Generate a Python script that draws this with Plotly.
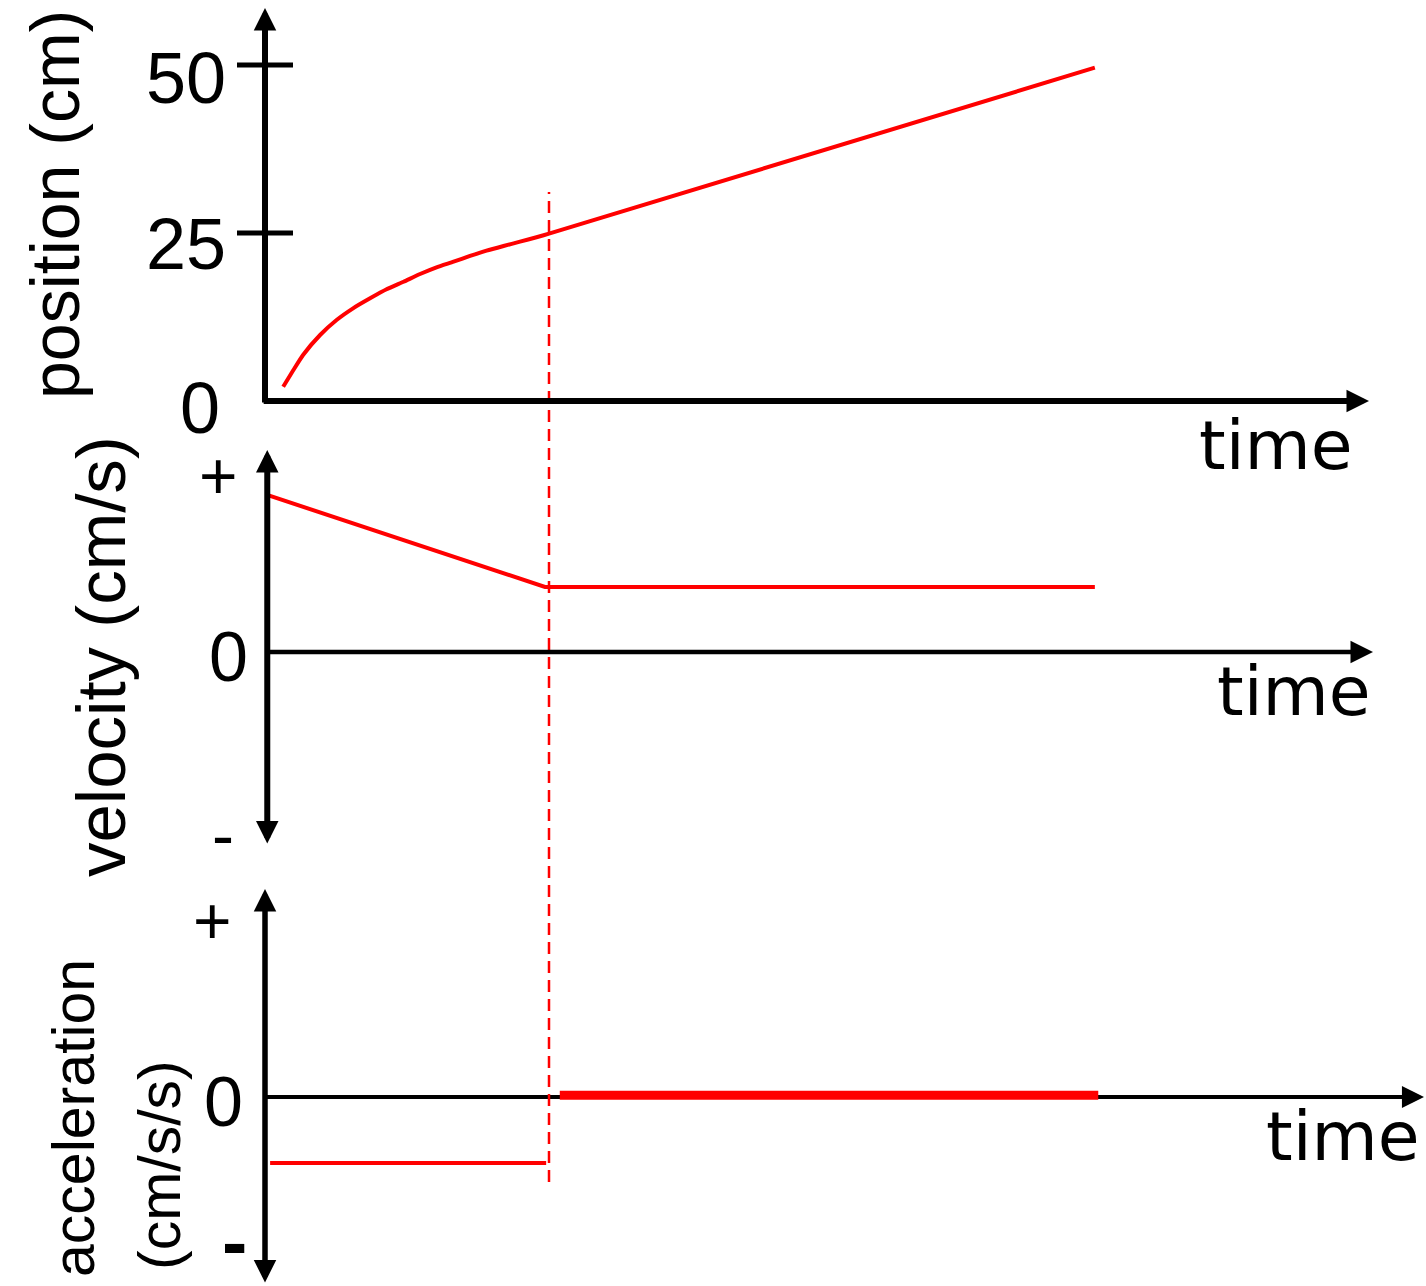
import plotly.graph_objects as go

W, H = 1426, 1286

# ---------------- data ----------------
pos_time = [0.32, 0.50, 0.67, 0.97, 1.26, 1.55, 1.85, 2.14, 2.44, 2.73, 3.02, 3.32,
            3.61, 3.90, 4.20, 4.49, 4.78, 5.0, 14.61]
pos_cm = [2.13, 4.61, 6.85, 9.82, 12.05, 13.79, 15.28, 16.62, 17.75, 18.90, 19.90, 20.73,
          21.58, 22.37, 23.07, 23.71, 24.36, 24.9, 49.6]

vel_time = [0.05, 4.93, 14.61]
vel_values = [6.2, 2.57, 2.57]

acc_neg_time = [0.09, 4.95]
acc_neg_values = [-0.74, -0.74]
acc_zero_time = [5.19, 14.67]
acc_zero_values = [0.02, 0.02]

t_change = 5.0

pos_ticks = [25, 50]
pos_tick_labels = ["0", "25", "50"]
sign_labels = ["+", "0", "-"]
axis_titles = ["position (cm)", "velocity (cm/s)", "acceleration", "(cm/s/s)"]
time_label = "time"

# ---------------- layout calibration (pixels -> data) ----------------
X0_PX, T_PX = 265, 56.8          # time axis origin and pixels per time unit
P0_PX, P_PX = 401, 6.72          # position panel
V0_PX, V_PX = 652, 25.3          # velocity panel
A0_PX, A_PX = 1097, 89.2         # acceleration panel

def rng(origin, scale, size):
    return [-(size - origin) / scale, origin / scale]

xr = [-X0_PX / T_PX, (W - X0_PX) / T_PX]
yr_pos = rng(P0_PX, P_PX, H)
yr_vel = rng(V0_PX, V_PX, H)
yr_acc = rng(A0_PX, A_PX, H)

def tx(px):
    return (px - X0_PX) / T_PX

RED = "#ff0000"
ARIAL = "Liberation Sans"
TIMEFONT = "DejaVu Sans"

fig = go.Figure()

fig.add_trace(go.Scatter(x=pos_time, y=pos_cm, mode="lines", xaxis="x", yaxis="y",
                         line=dict(color=RED, width=4, shape="spline", smoothing=0.5)))
fig.add_trace(go.Scatter(x=vel_time, y=vel_values, mode="lines", xaxis="x2", yaxis="y2",
                         line=dict(color=RED, width=4)))
fig.add_trace(go.Scatter(x=acc_neg_time, y=acc_neg_values, mode="lines", xaxis="x3", yaxis="y3",
                         line=dict(color=RED, width=4)))
fig.add_trace(go.Scatter(x=acc_zero_time, y=acc_zero_values, mode="lines", xaxis="x3", yaxis="y3",
                         line=dict(color=RED, width=9)))

ax_common = dict(visible=False, domain=[0, 1], fixedrange=True)
fig.update_layout(
    width=W, height=H, margin=dict(l=0, r=0, t=0, b=0),
    paper_bgcolor="white", plot_bgcolor="rgba(0,0,0,0)", showlegend=False,
    xaxis=dict(range=xr, anchor="y", **ax_common),
    yaxis=dict(range=yr_pos, anchor="x", **ax_common),
    xaxis2=dict(range=xr, anchor="y2", **ax_common),
    yaxis2=dict(range=yr_vel, anchor="x2", **ax_common),
    xaxis3=dict(range=xr, anchor="y3", **ax_common),
    yaxis3=dict(range=yr_acc, anchor="x3", **ax_common),
)

anns = []

def arrow(xref, yref, x, y, ax, ay, width, size, both=False):
    anns.append(dict(xref=xref, yref=yref, axref=xref, ayref=yref, x=x, y=y, ax=ax, ay=ay,
                     text="", showarrow=True, arrowhead=2, arrowsize=size, arrowwidth=width,
                     arrowcolor="black", arrowside="end+start" if both else "end",
                     startarrowhead=2, startarrowsize=size, standoff=0, startstandoff=0))

# position axes
arrow("x", "y", 0, (P0_PX - 8) / P_PX, 0, -0.45, 6, 0.75)
arrow("x", "y", tx(1369), 0, -0.05, 0, 6, 0.75)
# velocity axes
arrow("x2", "y2", 0.04, (V0_PX - 450) / V_PX, 0.04, (V0_PX - 845) / V_PX, 6, 0.75, both=True)
arrow("x2", "y2", tx(1373), 0, 0.04, 0, 4.5, 1.0)
# acceleration axes (horizontal line kept under the red trace, only the head on top)
arrow("x3", "y3", 0, (A0_PX - 889) / A_PX, 0, (A0_PX - 1284) / A_PX, 5.5, 0.82, both=True)
arrow("x3", "y3", tx(1424), 0, tx(1370), 0, 4.2, 1.05)

def ptext(text, px, py, size, font=ARIAL, angle=0, yanchor="middle"):
    anns.append(dict(xref="paper", yref="paper", x=px / W, y=1 - py / H, text=text,
                     showarrow=False, textangle=angle, xanchor="center", yanchor=yanchor,
                     font=dict(family=font, size=size, color="black")))

# axis titles
ptext(axis_titles[0], 55, 205, 68, angle=-90)
ptext(axis_titles[1], 101, 657, 69, angle=-90)
ptext(axis_titles[2], 74, 1118, 59, angle=-90)
ptext(axis_titles[3], 160, 1165, 59, angle=-90)

# position tick labels
ptext(pos_tick_labels[2], 186, 78, 72)
ptext(pos_tick_labels[1], 186, 244, 72)
ptext(pos_tick_labels[0], 200, 408, 72)
# velocity signs
ptext(sign_labels[0], 218, 476, 66)
ptext(sign_labels[1], 228, 657, 70)
ptext(sign_labels[2], 223, 835, 66)
# acceleration signs
ptext(sign_labels[0], 212, 921, 66)
ptext(sign_labels[1], 223, 1102, 70)
ptext("<b>" + sign_labels[2] + "</b>", 234, 1286, 76, yanchor="bottom")

# time labels
ptext(time_label, 1276, 445, 68, font=TIMEFONT)
ptext(time_label, 1294, 691, 68, font=TIMEFONT)
ptext(time_label, 1343, 1136, 68, font=TIMEFONT)

fig.update_layout(annotations=anns)

shapes = []
# tick marks on position axis
for v in pos_ticks:
    shapes.append(dict(type="line", xref="x", yref="y", x0=-28 / T_PX, x1=28 / T_PX, y0=v, y1=v,
                       line=dict(color="black", width=5)))
# acceleration time axis line (below the red trace)
shapes.append(dict(type="line", xref="x3", yref="y3", x0=0, x1=tx(1400), y0=0, y1=0,
                   layer="below", line=dict(color="black", width=4.2)))
# dashed marker of the moment acceleration stops
shapes.append(dict(type="line", xref="x", yref="paper", x0=t_change, x1=t_change,
                   y0=1 - 1182 / H, y1=1 - 192 / H,
                   line=dict(color=RED, width=2.5, dash="12px,7px")))
fig.update_layout(shapes=shapes)

fig.write_html("out.html", config={"displayModeBar": False},
               post_script="document.body.style.margin='0';document.body.style.overflow='hidden';")
